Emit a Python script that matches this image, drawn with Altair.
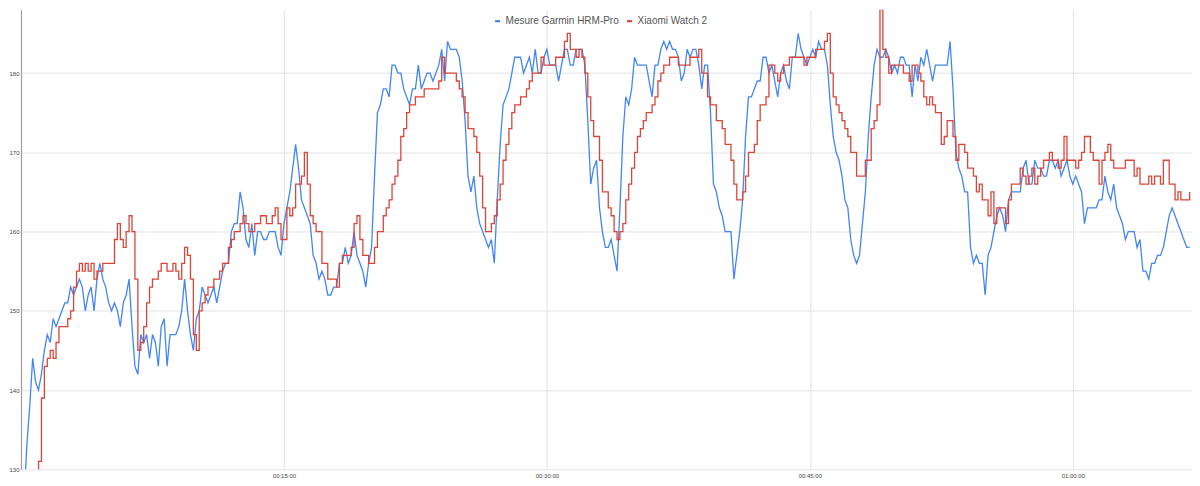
import altair as alt
import pandas as pd

# One reading every 10 s starting at 00:00:00
STEP_S = 10

garmin = [
    122, 126, 133, 138, 144, 141, 140, 142, 145, 147, 146, 149, 148, 149, 150, 151, 151, 153, 152, 153,
    154, 153, 150, 152, 153, 150, 154, 156, 154, 153, 151, 150, 151, 150, 148, 151, 152, 154, 148, 143,
    142, 147, 146, 147, 144, 147, 146, 143, 148, 149, 143, 147, 147, 147, 148, 150, 154, 150, 147, 145,
    149, 150, 153, 152, 151, 152, 153, 151, 153, 155, 156, 156, 160, 161, 161, 165, 163, 159, 158, 161,
    157, 160, 160, 159, 159, 160, 160, 160, 158, 157, 161, 163, 165, 168, 171, 168, 164, 163, 162, 161,
    157, 156, 154, 155, 154, 152, 152, 153, 153, 156, 156, 158, 156, 157, 160, 157, 156, 155, 153, 156,
    158, 167, 175, 176, 178, 178, 177, 181, 181, 180, 180, 178, 177, 176, 178, 178, 181, 178, 179, 180,
    180, 179, 180, 181, 183, 179, 184, 183, 183, 183, 182, 179, 174, 167, 165, 167, 163, 161, 160, 159,
    158, 159, 156, 164, 171, 176, 177, 178, 180, 182, 182, 182, 180, 181, 182, 180, 183, 180, 180, 182,
    183, 181, 181, 181, 179, 181, 183, 183, 181, 181, 183, 183, 183, 181, 174, 166, 168, 169, 163, 160,
    158, 158, 159, 157, 155, 163, 172, 177, 176, 178, 182, 181, 181, 181, 181, 179, 177, 181, 181, 183,
    184, 183, 184, 183, 183, 182, 179, 180, 183, 182, 183, 183, 181, 178, 181, 181, 175, 166, 165, 163,
    162, 160, 160, 160, 154, 157, 160, 164, 172, 177, 177, 178, 179, 179, 182, 182, 180, 181, 179, 177,
    180, 181, 179, 178, 182, 182, 185, 183, 182, 181, 182, 183, 182, 184, 183, 183, 181, 176, 172, 170,
    169, 167, 164, 163, 159, 157, 156, 157, 161, 165, 172, 177, 181, 183, 182, 182, 183, 182, 180, 181,
    180, 182, 182, 181, 181, 177, 181, 179, 182, 181, 183, 181, 179, 181, 181, 181, 181, 181, 184, 178,
    170, 168, 167, 165, 165, 158, 156, 157, 156, 156, 152, 157, 158, 160, 162, 163, 162, 160, 164, 165,
    165, 165, 165, 168, 169, 166, 166, 169, 168, 168, 167, 167, 169, 169, 168, 169, 167, 168, 169, 167,
    166, 167, 166, 165, 161, 163, 163, 163, 163, 164, 164, 167, 165, 164, 166, 163, 162, 161, 159, 160,
    160, 160, 158, 159, 155, 155, 154, 156, 156, 157, 157, 158, 160, 162, 163, 162, 161, 160, 159, 158,
    158,
]

xiaomi = [
    110, 112, 114, 117, 120, 124, 131, 139, 143, 144, 145, 144, 146, 148, 148, 148, 149, 150, 153, 155,
    156, 155, 156, 155, 156, 154, 155, 155, 156, 156, 156, 156, 159, 161, 159, 158, 160, 162, 160, 154,
    145, 146, 148, 151, 153, 154, 154, 155, 156, 156, 155, 155, 156, 155, 154, 156, 158, 157, 154, 147,
    145, 150, 151, 152, 153, 153, 154, 154, 155, 156, 156, 158, 159, 160, 160, 161, 162, 161, 160, 160,
    161, 161, 162, 162, 161, 161, 162, 163, 161, 159, 159, 163, 162, 163, 166, 166, 167, 170, 166, 162,
    161, 160, 160, 156, 156, 154, 154, 154, 153, 156, 157, 157, 157, 158, 161, 162, 159, 157, 157, 156,
    156, 158, 160, 160, 162, 163, 164, 166, 167, 169, 172, 173, 175, 176, 176, 177, 177, 177, 178, 178,
    178, 178, 178, 179, 182, 180, 180, 180, 180, 179, 178, 177, 175, 173, 173, 172, 170, 167, 163, 160,
    160, 161, 162, 164, 166, 169, 171, 173, 175, 176, 176, 177, 177, 178, 179, 180, 180, 180, 182, 181,
    181, 181, 181, 182, 182, 182, 184, 185, 183, 183, 182, 183, 182, 180, 177, 174, 172, 172, 169, 165,
    165, 163, 162, 160, 159, 160, 161, 164, 166, 168, 170, 172, 173, 174, 175, 175, 176, 177, 179, 180,
    181, 181, 182, 182, 182, 181, 181, 181, 181, 182, 182, 182, 183, 180, 180, 177, 176, 176, 174, 174,
    173, 171, 171, 169, 166, 164, 164, 165, 167, 170, 170, 171, 174, 176, 176, 177, 181, 181, 180, 179,
    180, 181, 181, 182, 182, 182, 182, 182, 181, 182, 182, 182, 183, 183, 183, 184, 185, 180, 177, 176,
    175, 174, 173, 172, 170, 170, 167, 167, 167, 169, 169, 173, 174, 176, 188, 183, 182, 180, 181, 181,
    181, 181, 180, 180, 179, 181, 181, 180, 179, 177, 176, 177, 176, 175, 175, 171, 172, 174, 174, 172,
    169, 171, 171, 170, 168, 168, 167, 165, 166, 164, 164, 162, 165, 161, 163, 163, 163, 161, 164, 166,
    166, 166, 168, 167, 166, 167, 168, 166, 167, 168, 169, 169, 170, 169, 169, 168, 169, 172, 169, 169,
    169, 168, 169, 170, 172, 172, 170, 169, 169, 166, 169, 170, 171, 169, 168, 168, 168, 168, 169, 169,
    169, 167, 168, 166, 166, 166, 167, 166, 167, 167, 166, 169, 169, 166, 166, 164, 165, 164, 164, 164,
    165,
]

series_names = ["Mesure Garmin HRM-Pro", "Xiaomi Watch 2"]
series_colors = ["#4285F4", "#DB4437"]
x_tick_seconds = [900, 1800, 2700, 3600]
y_ticks = [130, 140, 150, 160, 170, 180]

rows = []
for name, vals in zip(series_names, [garmin, xiaomi]):
    for i, v in enumerate(vals):
        rows.append({"t": i * STEP_S, "bpm": v, "serie": name})
df = pd.DataFrame(rows)

FONT = "Arial, 'Liberation Sans', sans-serif"

x_enc = alt.X(
    "t:Q",
    scale=alt.Scale(domain=[0, 4008], nice=False, zero=False),
    axis=alt.Axis(
        values=x_tick_seconds,
        labelExpr="utcFormat(datum.value * 1000, '%H:%M:%S')",
        title=None, grid=True, gridColor="#e3e3e3", domain=False,
        ticks=False, labelFontSize=6, labelColor="#444444", labelFont=FONT,
        labelPadding=3, labelFlush=False,
    ),
)
y_enc = alt.Y(
    "bpm:Q",
    scale=alt.Scale(domain=[130, 188], nice=False, zero=False),
    axis=alt.Axis(
        values=y_ticks, title=None, grid=True, gridColor="#e3e3e3",
        domain=True, domainColor="#9e9e9e", domainWidth=1.2,
        ticks=False, labelFontSize=6, labelColor="#444444", labelFont=FONT,
        labelPadding=2,
    ),
)
color_enc = alt.Color(
    "serie:N",
    scale=alt.Scale(domain=series_names, range=series_colors),
    sort=series_names,
    legend=alt.Legend(
        orient="none", legendX=472, legendY=6.5, direction="horizontal",
        title=None, symbolType="stroke", symbolSize=25, symbolStrokeWidth=2.2,
        labelFontSize=10, labelColor="#555555", labelFont=FONT,
        labelOffset=3, columnPadding=3, padding=0,
    ),
)

base = alt.Chart(df).encode(x=x_enc, y=y_enc, color=color_enc, order="t:Q")

garmin_layer = base.transform_filter(
    alt.datum.serie == series_names[0]
).mark_line(strokeWidth=1.3, clip=True)

xiaomi_layer = base.transform_filter(
    alt.datum.serie == series_names[1]
).mark_line(strokeWidth=1.3, clip=True, interpolate="step-after")

chart = alt.layer(garmin_layer, xiaomi_layer).properties(
    width=1172,
    height=460,
    autosize=alt.AutoSizeParams(type="none"),
    padding={"left": 13, "top": 1.5, "right": 0, "bottom": 16},
).configure_view(stroke=None)

chart.save("out.html", embed_options={"renderer": "svg", "actions": False})
